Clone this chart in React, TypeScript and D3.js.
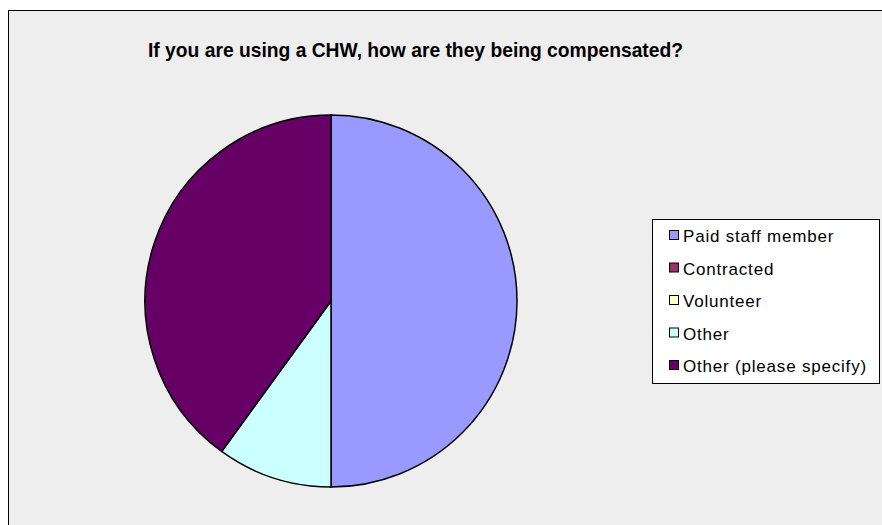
import React from "react";
import * as d3 from "d3";

const title = "If you are using a CHW, how are they being compensated?";
const categories = ["Paid staff member", "Contracted", "Volunteer", "Other", "Other (please specify)"];
const values = [50, 0, 0, 10, 40];
const colors = ["#9999ff", "#993366", "#ffffcc", "#ccffff", "#660066"];

export default function App() {
  const W = 882, H = 525;
  const cx = 331, cy = 301, r = 186;
  const pie = d3.pie<number>().sort(null).value((d) => d)(values);
  const arc = d3.arc<d3.PieArcDatum<number>>().innerRadius(0).outerRadius(r);
  const legY = d3.scalePoint<string>().domain(categories).range([236, 366]);
  return (
    <svg width={W} height={H} style={{ position: "absolute", left: 0, top: 0 }}>
      <rect x={8.5} y={10.5} width={W} height={H} fill="#eeeeee" stroke="#000" strokeWidth={1} />
      <text x={148} y={57} fontFamily="Liberation Sans, Arial, sans-serif" fontSize={21} fontWeight="bold"
        textLength={535} lengthAdjust="spacingAndGlyphs" fill="#000">{title}</text>
      <g transform={`translate(${cx},${cy})`}>
        {pie.map((p, i) => (
          p.value > 0 ? <path key={i} d={arc(p) || ""} fill={colors[i]} stroke="#000" strokeWidth={1.5} /> : null
        ))}
      </g>
      <rect x={652.5} y={219.5} width={227} height={164} fill="#ffffff" stroke="#000" strokeWidth={1} />
      {categories.map((c, i) => (
        <g key={c}>
          <rect x={669.5} y={legY(c)! - 5.5} width={9} height={9} fill={colors[i]} stroke="#000" strokeWidth={1} />
          <text x={683} y={legY(c)! + 6} fontFamily="Liberation Sans, Arial, sans-serif" fontSize={17}
            letterSpacing={0.8} fill="#000">{c}</text>
        </g>
      ))}
    </svg>
  );
}
